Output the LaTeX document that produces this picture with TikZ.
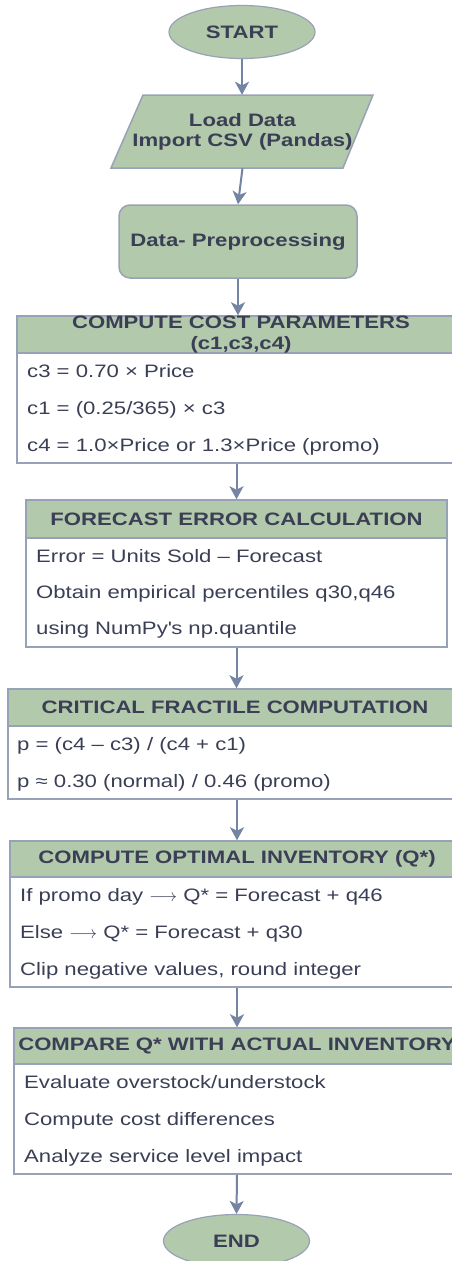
\documentclass[tikz,border=0pt]{standalone}
\usepackage{fontspec}
\setmainfont{Liberation Sans}[FakeStretch=1.23]
\usetikzlibrary{arrows.meta,shapes.geometric}

\definecolor{boxfill}{HTML}{B3C9AC}
\definecolor{boxline}{HTML}{98A2B6}
\definecolor{arrowc}{HTML}{7385A2}
\definecolor{txt}{HTML}{3B3F55}

\newcommand{\fs}{\fontsize{18}{20.5}\selectfont}

\begin{document}
\begin{tikzpicture}[x=1pt,y=-1pt,
  terminal/.style={ellipse, draw=boxline, fill=boxfill, line width=1.2pt,
    minimum width=146pt, minimum height=53pt, inner sep=0pt,
    font=\fs\bfseries, text=txt},
  hdr/.style={rectangle, draw=boxline, fill=boxfill, line width=1.5pt,
    inner sep=0pt, font=\fs\bfseries, text=txt, align=center},
  bodybox/.style={rectangle, draw=boxline, fill=white, line width=1.5pt, inner sep=0pt},
  item/.style={anchor=base west, inner sep=0pt, font=\fs, text=txt},
  flow/.style={-{Stealth[length=13pt,width=14pt,inset=3.5pt]}, draw=arrowc, line width=2pt},
]
\useasboundingbox (0,0) rectangle (452,1261);

% start / load / preprocess
\node[terminal] (start) at (242,32) {START};

\draw[boxline, fill=boxfill, line width=1.5pt]
  (143,95) -- (373,95) -- (343,168) -- (111,168) -- cycle;
\node[rectangle, inner sep=0pt, minimum width=230pt, minimum height=73pt,
  font=\fs\bfseries, text=txt, align=center] (load) at (242.5,131.5)
  {Load Data\\[-0.5pt]Import CSV (Pandas)};

\node[rectangle, rounded corners=11pt, draw=boxline, fill=boxfill, line width=1.5pt,
  minimum width=238pt, minimum height=73pt, inner sep=0pt,
  font=\fs\bfseries, text=txt] (prep) at (238,241.5) {Data- Preprocessing};

% cost parameters
\node[bodybox, minimum width=448pt, minimum height=110pt] (costb) at (241,408) {};
\node[hdr, minimum width=448pt, minimum height=37pt] (cost) at (241,334.5)
  {COMPUTE COST PARAMETERS\\(c1,c3,c4)};
\node[item] (c3) at (27,377.5) {c3 = 0.70 × Price};
\node[item] (c1) at (27,414.5) {c1 = (0.25/365) × c3};
\node[item] (c4) at (27,451.5) {c4 = 1.0×Price or 1.3×Price (promo)};

% forecast error
\node[bodybox, minimum width=421pt, minimum height=109pt] (errb) at (236.5,592.5) {};
\node[hdr, minimum width=421pt, minimum height=38pt] (err) at (236.5,519) {FORECAST ERROR CALCULATION};
\node[item] (e1) at (36,562.5) {Error = Units Sold – Forecast};
\node[item] (e2) at (36,598.5) {Obtain empirical percentiles q30,q46};
\node[item] (e3) at (36,634.5) {using NumPy\textquotesingle s np.quantile};

% critical fractile
\node[bodybox, minimum width=454pt, minimum height=73pt] (fracb) at (235,762.5) {};
\node[hdr, minimum width=454pt, minimum height=37pt] (frac) at (235,707.5) {CRITICAL FRACTILE COMPUTATION};
\node[item] (p1) at (17,750.5) {p = (c4 – c3) / (c4 + c1)};
\node[item] (p2) at (17,787.5) {p ≈ 0.30 (normal) / 0.46 (promo)};

% optimal inventory
\node[bodybox, minimum width=454pt, minimum height=110pt] (optb) at (237,932) {};
\node[hdr, minimum width=454pt, minimum height=36pt] (opt) at (237,859) {COMPUTE OPTIMAL INVENTORY (Q*)};
\node[item] (o1) at (20,901.5) {If promo day $\longrightarrow$ Q* = Forecast + q46};
\node[item] (o2) at (20,938.5) {Else $\longrightarrow$ Q* = Forecast + q30};
\node[item] (o3) at (20,975.5) {Clip negative values, round integer};

% comparison
\node[bodybox, minimum width=446pt, minimum height=110pt] (cmpb) at (237,1119) {};
\node[hdr, minimum width=446pt, minimum height=36pt] (cmp) at (237,1046) {COMPARE Q* WITH ACTUAL INVENTORY};
\node[item] (k1) at (24,1088.5) {Evaluate overstock/understock};
\node[item] (k2) at (24,1125.5) {Compute cost differences};
\node[item] (k3) at (24,1162.5) {Analyze service level impact};

\node[terminal] (end) at (236.5,1241) {END};

% connectors
\draw[flow] (start.south) -- (start.south |- load.north);
\draw[flow] (load.south) -- (prep.north);
\draw[flow] (prep.south) -- (prep.south |- cost.north);
\draw[flow] (costb.south -| err.north) -- (err.north);
\draw[flow] (errb.south) -- (errb.south |- frac.north);
\draw[flow] (fracb.south -| opt.north) -- (opt.north);
\draw[flow] (optb.south) -- (cmp.north);
\draw[flow] (cmpb.south) -- (end.north);
\end{tikzpicture}
\end{document}
